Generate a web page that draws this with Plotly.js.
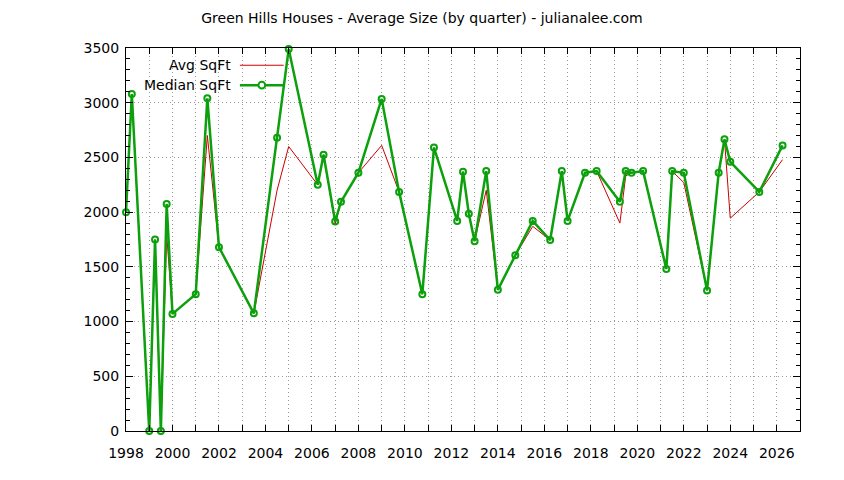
<!DOCTYPE html>
<html>
<head>
<meta charset="utf-8">
<script src="https://cdn.plot.ly/plotly-3.0.1.min.js"></script>
<style>
  body { margin: 0; background: #fff; }
  #myDiv { width: 844px; height: 480px; }
</style>
</head>
<body>
<div id="myDiv"></div>
<script>
// quarter positions (year + quarter offset)
let QUARTERS = [1998.0, 1998.25, 1999.0, 1999.25, 1999.5, 1999.75, 2000.0, 2001.0, 2001.5, 2002.0,
    2003.5, 2004.5, 2005.0, 2006.25, 2006.5, 2007.0, 2007.25, 2008.0, 2009.0, 2009.75,
    2010.75, 2011.25, 2012.25, 2012.5, 2012.75, 2013.0, 2013.5, 2014.0, 2014.75, 2015.5,
    2016.25, 2016.75, 2017.0, 2017.75, 2018.25, 2019.25, 2019.5, 2019.75, 2020.25, 2021.25,
    2021.5, 2022.0, 2023.0, 2023.5, 2023.75, 2024.0, 2025.25, 2026.25];

let MEDIAN_SQFT = [2000, 3080, 0, 1750, 0, 2075, 1070, 1250, 3040, 1680,
    1075, 2680, 3490, 2250, 2525, 1915, 2095, 2360, 3035, 2185,
    1250, 2590, 1920, 2370, 1985, 1735, 2375, 1290, 1605, 1920,
    1745, 2375, 1920, 2360, 2375, 2095, 2375, 2360, 2375, 1480,
    2375, 2360, 1285, 2360, 2665, 2460, 2185, 2610];

let AVG_SQFT = [2000, 3080, 0, 1750, 0, 1800, 1070, 1250, 2700, 1680,
    1075, 2200, 2600, 2250, 2525, 1890, 2095, 2360, 2610, 2185,
    1250, 2590, 1920, 2370, 1985, 1735, 2200, 1290, 1605, 1870,
    1745, 2375, 1920, 2360, 2375, 1900, 2330, 2360, 2375, 1480,
    2375, 2270, 1285, 2360, 2665, 1945, 2185, 2480];

let X_TICKS = [1998, 2000, 2002, 2004, 2006, 2008, 2010, 2012, 2014, 2016, 2018, 2020, 2022, 2024, 2026];

let FONT = 'DejaVu Sans, Verdana, sans-serif';
let GREEN = '#0ca00c';
let RED = '#cc0000';
let GRID = '#9a9a9a';

let avgTrace = {
    x: QUARTERS,
    y: AVG_SQFT,
    mode: 'lines',
    type: 'scatter',
    name: 'Avg SqFt',
    line: { color: RED, width: 1 },
    cliponaxis: false,
    hoverinfo: 'skip'
};

let medianTrace = {
    x: QUARTERS,
    y: MEDIAN_SQFT,
    mode: 'lines+markers',
    type: 'scatter',
    name: 'Median SqFt',
    line: { color: GREEN, width: 2.5 },
    cliponaxis: false,
    marker: { symbol: 'circle-open', size: 6, color: GREEN, line: { width: 2, color: GREEN } }
};

let layout = {
    width: 844,
    height: 480,
    margin: { l: 126, r: 44, t: 48, b: 49 },
    paper_bgcolor: '#fff',
    plot_bgcolor: '#fff',
    showlegend: false,
    font: { family: FONT, size: 14, color: '#000' },
    title: {
        text: 'Green Hills Houses - Average Size (by quarter) - julianalee.com',
        font: { family: FONT, size: 14, color: '#000' },
        x: 0.5, xanchor: 'center', y: 0.962, yanchor: 'middle'
    },
    xaxis: {
        range: [1998, 2027],
        tickvals: X_TICKS,
        ticktext: X_TICKS.map(String),
        ticks: 'inside',
        ticklen: 6,
        tickcolor: '#000',
        ticklabelstandoff: 9,
        showline: true,
        linecolor: '#000',
        linewidth: 1,
        mirror: 'allticks',
        showgrid: true,
        gridcolor: GRID,
        griddash: '1px,3px',
        gridwidth: 1,
        zeroline: false,
        minor: {
            dtick: 1,
            tick0: 1998,
            ticks: 'inside',
            ticklen: 6,
            tickcolor: '#000',
            showgrid: true,
            gridcolor: GRID,
            griddash: '1px,3px',
            gridwidth: 1
        },
        tickfont: { family: FONT, size: 14 }
    },
    yaxis: {
        range: [0, 3500],
        dtick: 500,
        ticks: 'inside',
        ticklen: 7,
        tickcolor: '#000',
        ticklabelstandoff: 3,
        showline: true,
        linecolor: '#000',
        linewidth: 1,
        mirror: 'allticks',
        showgrid: true,
        gridcolor: GRID,
        griddash: '1px,3px',
        gridwidth: 1,
        zeroline: false,
        minor: {
            dtick: 100,
            ticks: 'inside',
            ticklen: 4,
            tickcolor: '#000',
            showgrid: false
        },
        tickfont: { family: FONT, size: 14 }
    },
    // gnuplot style key: text right aligned, sample on the right
    annotations: [
        { xref: 'paper', yref: 'paper', x: 0.159, y: 0.955, xanchor: 'right', yanchor: 'middle',
          text: 'Avg SqFt', showarrow: false, font: { family: FONT, size: 14 } },
        { xref: 'paper', yref: 'paper', x: 0.159, y: 0.903, xanchor: 'right', yanchor: 'middle',
          text: 'Median SqFt', showarrow: false, font: { family: FONT, size: 14 } }
    ],
    shapes: [
        { type: 'line', xref: 'paper', yref: 'paper', x0: 0.169, x1: 0.234, y0: 0.955, y1: 0.955,
          line: { color: RED, width: 1 } },
        { type: 'line', xref: 'paper', yref: 'paper', x0: 0.169, x1: 0.234, y0: 0.903, y1: 0.903,
          line: { color: GREEN, width: 2.5 } },
        { type: 'circle', xref: 'paper', yref: 'paper', x0: 0.1965, x1: 0.2065, y0: 0.894, y1: 0.912,
          fillcolor: '#fff', line: { color: GREEN, width: 2 } }
    ]
};

Plotly.newPlot('myDiv', [avgTrace, medianTrace], layout, { staticPlot: true });
</script>
</body>
</html>
